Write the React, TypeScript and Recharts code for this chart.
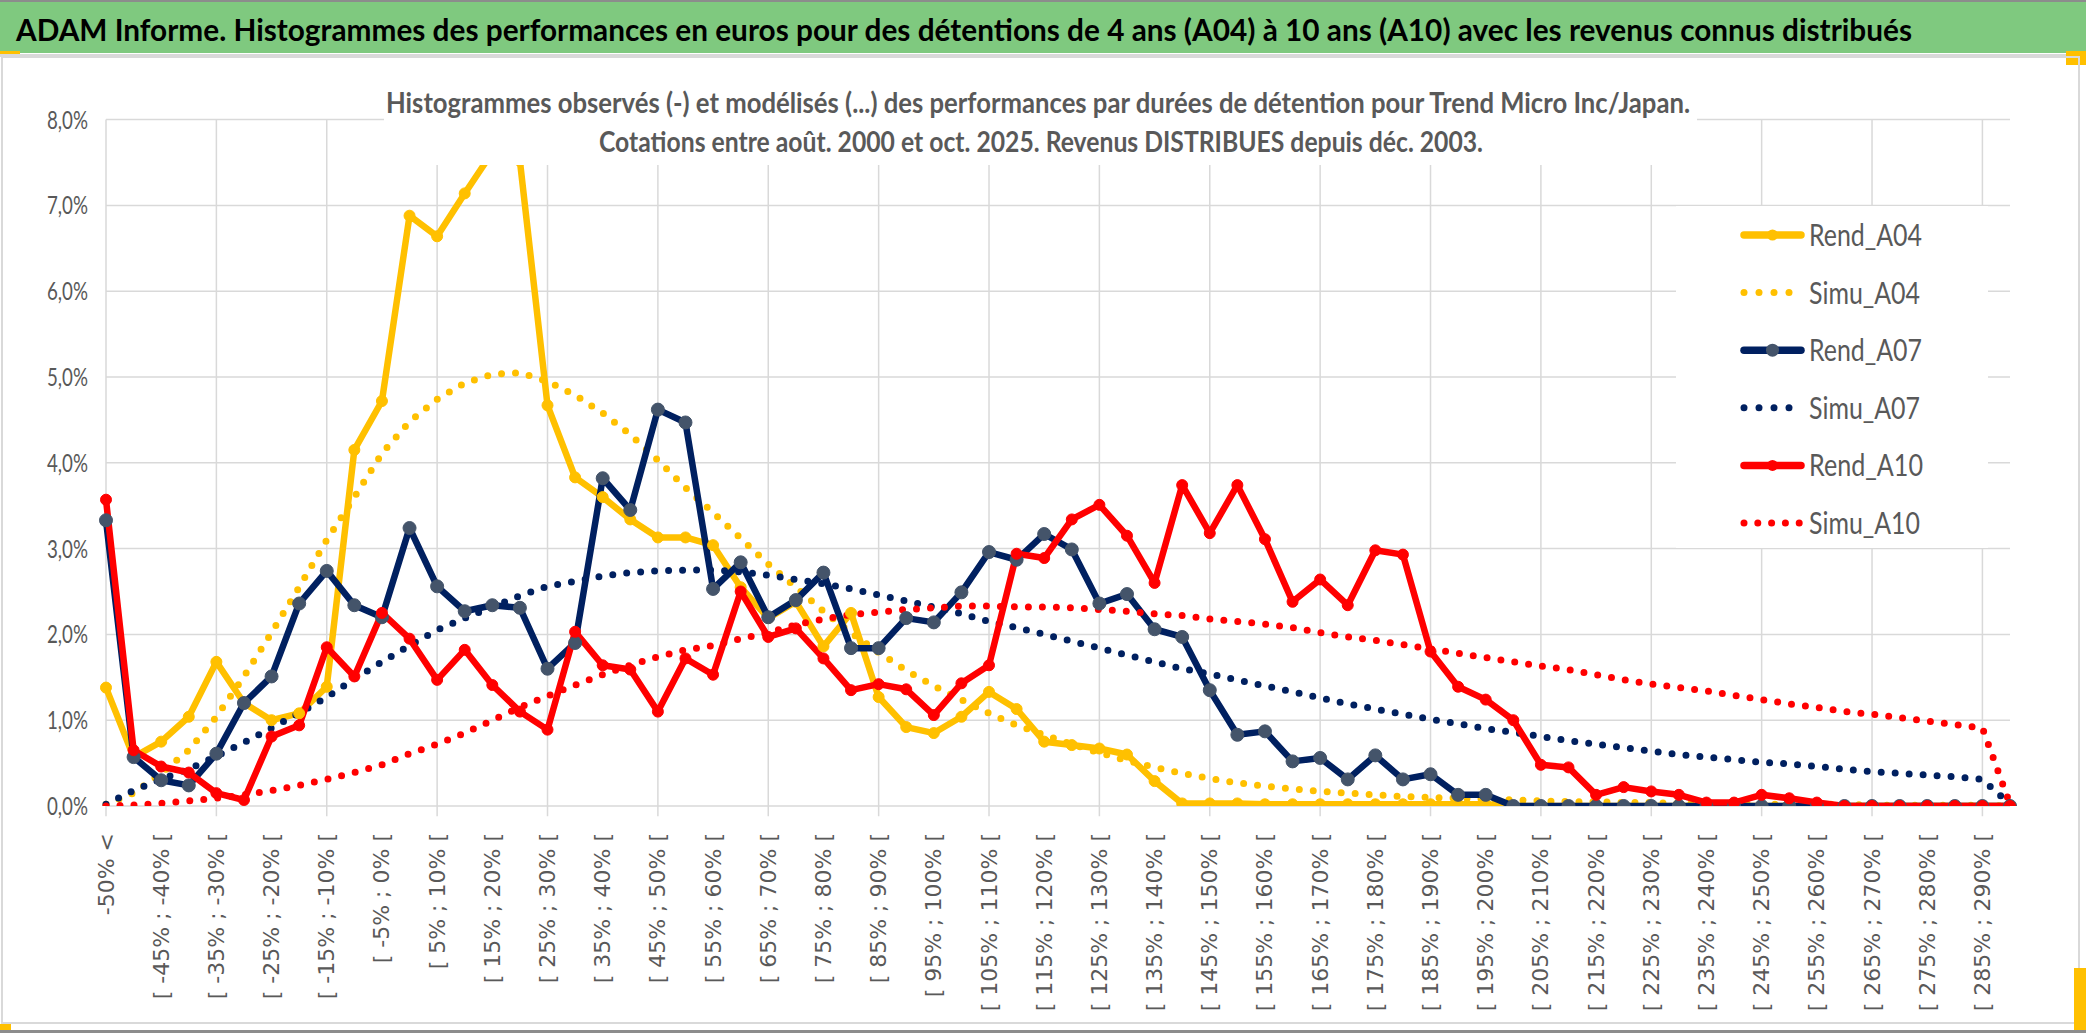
import React from "react";
import {
  LineChart,
  Line,
  XAxis,
  YAxis,
  CartesianGrid,
  ReferenceLine,
  Legend,
} from "recharts";

const W = 2086;
const H = 1033;

const TITLE =
  "ADAM Informe. Histogrammes des performances en euros pour des détentions de 4 ans (A04) à 10 ans (A10) avec les revenus connus distribués";
const SUBTITLE_1 =
  "Histogrammes observés (-) et modélisés (...) des performances par durées de détention pour Trend Micro Inc/Japan.";
const SUBTITLE_2 =
  "Cotations entre août. 2000 et oct. 2025. Revenus DISTRIBUES depuis déc. 2003.";

const categories = [
  "-50% <", "[ -50% ; -45% [", "[ -45% ; -40% [", "[ -40% ; -35% [", "[ -35% ; -30% [",
  "[ -30% ; -25% [", "[ -25% ; -20% [", "[ -20% ; -15% [", "[ -15% ; -10% [", "[ -10% ; -5% [",
  "[ -5% ; 0% [", "[ 0% ; 5% [", "[ 5% ; 10% [", "[ 10% ; 15% [", "[ 15% ; 20% [",
  "[ 20% ; 25% [", "[ 25% ; 30% [", "[ 30% ; 35% [", "[ 35% ; 40% [", "[ 40% ; 45% [",
  "[ 45% ; 50% [", "[ 50% ; 55% [", "[ 55% ; 60% [", "[ 60% ; 65% [", "[ 65% ; 70% [",
  "[ 70% ; 75% [", "[ 75% ; 80% [", "[ 80% ; 85% [", "[ 85% ; 90% [", "[ 90% ; 95% [",
  "[ 95% ; 100% [", "[ 100% ; 105% [", "[ 105% ; 110% [", "[ 110% ; 115% [", "[ 115% ; 120% [",
  "[ 120% ; 125% [", "[ 125% ; 130% [", "[ 130% ; 135% [", "[ 135% ; 140% [", "[ 140% ; 145% [",
  "[ 145% ; 150% [", "[ 150% ; 155% [", "[ 155% ; 160% [", "[ 160% ; 165% [", "[ 165% ; 170% [",
  "[ 170% ; 175% [", "[ 175% ; 180% [", "[ 180% ; 185% [", "[ 185% ; 190% [", "[ 190% ; 195% [",
  "[ 195% ; 200% [", "[ 200% ; 205% [", "[ 205% ; 210% [", "[ 210% ; 215% [", "[ 215% ; 220% [",
  "[ 220% ; 225% [", "[ 225% ; 230% [", "[ 230% ; 235% [", "[ 235% ; 240% [", "[ 240% ; 245% [",
  "[ 245% ; 250% [", "[ 250% ; 255% [", "[ 255% ; 260% [", "[ 260% ; 265% [", "[ 265% ; 270% [",
  "[ 270% ; 275% [", "[ 275% ; 280% [", "[ 280% ; 285% [", "[ 285% ; 290% [", "[ 290% ; 295% [",
];

// valeurs en %
const rendA04 = [
  1.38, 0.57, 0.75, 1.04, 1.68, 1.2, 1.0, 1.08, 1.39, 4.15,
  4.72, 6.88, 6.64, 7.14, 7.62, 7.52, 4.67, 3.83, 3.6, 3.34,
  3.13, 3.13, 3.04, 2.55, 2.19, 2.38, 1.86, 2.25, 1.27, 0.92,
  0.85, 1.04, 1.33, 1.13, 0.75, 0.71, 0.67, 0.6, 0.29, 0.03,
  0.03, 0.03, 0.02, 0.02, 0.02, 0.02, 0.02, 0.02, 0.02, 0.02,
  0.02, 0, 0, 0, 0, 0, 0, 0, 0, 0,
  0, 0, 0, 0, 0, 0, 0, 0, 0, 0,
];
const simuA04 = [
  0.02, 0.15, 0.38, 0.65, 1.04, 1.51, 2.02, 2.55, 3.1, 3.6,
  4.11, 4.48, 4.74, 4.93, 5.03, 5.05, 4.95, 4.79, 4.58, 4.33,
  4.03, 3.71, 3.42, 3.12, 2.82, 2.55, 2.27, 2.02, 1.79, 1.58,
  1.4, 1.24, 1.08, 0.94, 0.83, 0.72, 0.62, 0.53, 0.45, 0.38,
  0.32, 0.27, 0.23, 0.2, 0.17, 0.15, 0.13, 0.11, 0.1, 0.09,
  0.08, 0.07, 0.06, 0.05, 0.05, 0.04, 0.04, 0.03, 0.03, 0.03,
  0.02, 0.02, 0.02, 0.02, 0.01, 0.01, 0.01, 0.01, 0.01, 0,
];
const rendA07 = [
  3.33, 0.57, 0.3, 0.24, 0.61, 1.2, 1.51, 2.36, 2.74, 2.34,
  2.2, 3.24, 2.56, 2.27, 2.34, 2.31, 1.6, 1.9, 3.82, 3.45,
  4.62, 4.47, 2.53, 2.84, 2.2, 2.4, 2.72, 1.84, 1.84, 2.19,
  2.14, 2.49, 2.96, 2.87, 3.17, 2.99, 2.36, 2.47, 2.06, 1.97,
  1.35, 0.83, 0.87, 0.52, 0.56, 0.31, 0.59, 0.31, 0.37, 0.13,
  0.13, 0, 0, 0, 0, 0, 0, 0, 0, 0,
  0, 0, 0, 0, 0, 0, 0, 0, 0, 0,
];
const simuA07 = [
  0.02, 0.18, 0.31, 0.43, 0.58, 0.74, 0.91, 1.08, 1.27, 1.48,
  1.68, 1.87, 2.05, 2.19, 2.32, 2.45, 2.56, 2.62, 2.68, 2.72,
  2.74, 2.75, 2.75, 2.73, 2.69, 2.64, 2.59, 2.53, 2.46, 2.39,
  2.32, 2.24, 2.15, 2.08, 2.0, 1.92, 1.84, 1.76, 1.68, 1.6,
  1.54, 1.47, 1.4, 1.33, 1.26, 1.19, 1.13, 1.07, 1.01, 0.96,
  0.9, 0.86, 0.81, 0.76, 0.72, 0.68, 0.64, 0.6, 0.57, 0.54,
  0.51, 0.49, 0.46, 0.43, 0.4, 0.38, 0.36, 0.34, 0.31, 0.02,
];
const rendA10 = [
  3.57, 0.65, 0.46, 0.39, 0.15, 0.07, 0.81, 0.94, 1.85, 1.51,
  2.25, 1.95, 1.47, 1.82, 1.41, 1.1, 0.89, 2.03, 1.64, 1.59,
  1.1, 1.72, 1.53, 2.5, 1.97, 2.07, 1.72, 1.35, 1.42, 1.36,
  1.06, 1.43, 1.64, 2.94, 2.89, 3.34, 3.51, 3.15, 2.6, 3.74,
  3.18, 3.74, 3.11, 2.38, 2.64, 2.34, 2.98, 2.93, 1.8, 1.39,
  1.24, 1.0, 0.48, 0.45, 0.13, 0.22, 0.17, 0.13, 0.04, 0.04,
  0.13, 0.09, 0.04, 0, 0, 0, 0, 0, 0, 0,
];
const simuA10 = [
  0, 0.01, 0.03, 0.06, 0.09, 0.13, 0.18, 0.24, 0.31, 0.39,
  0.48, 0.61, 0.72, 0.85, 1.0, 1.15, 1.28, 1.41, 1.53, 1.64,
  1.74, 1.82, 1.87, 1.95, 2.02, 2.11, 2.18, 2.23, 2.26, 2.29,
  2.31, 2.33, 2.33, 2.32, 2.32, 2.31, 2.29, 2.27, 2.24, 2.22,
  2.18, 2.15, 2.12, 2.08, 2.02, 1.97, 1.93, 1.88, 1.83, 1.78,
  1.73, 1.68, 1.63, 1.59, 1.53, 1.47, 1.42, 1.38, 1.34, 1.29,
  1.24, 1.19, 1.15, 1.1, 1.07, 1.03, 0.99, 0.95, 0.91, 0.02,
];

const yTicks = [0, 1, 2, 3, 4, 5, 6, 7, 8];

const data = categories.map((cat, i) => ({
  cat,
  Rend_A04: rendA04[i],
  Simu_A04: simuA04[i],
  Rend_A07: rendA07[i],
  Simu_A07: simuA07[i],
  Rend_A10: rendA10[i],
  Simu_A10: simuA10[i],
}));

// lignes verticales de la grille : une catégorie sur quatre
const gridCats = categories.filter((_, i) => i % 4 === 0);

const SERIES = [
  { key: "Rend_A04", color: "#FFC000", marker: "#FFC000", r: 5.5, dotted: false, legendW: 113 },
  { key: "Simu_A04", color: "#FFC000", marker: "", r: 0, dotted: true, legendW: 111, dots: 4 },
  { key: "Rend_A07", color: "#002060", marker: "#44546A", r: 6.5, dotted: false, legendW: 113 },
  { key: "Simu_A07", color: "#002060", marker: "", r: 0, dotted: true, legendW: 111, dots: 4 },
  { key: "Rend_A10", color: "#FF0000", marker: "#FF0000", r: 5.5, dotted: false, legendW: 114 },
  { key: "Simu_A10", color: "#FF0000", marker: "", r: 0, dotted: true, legendW: 111, dots: 5 },
];

const GREY = "#595959";
const GRID = "#D9D9D9";
const LATO = "Lato, 'Open Sans', sans-serif";

const fmtPct = (v: number) => v.toFixed(1).replace(".", ",") + "%";

const YTick = (props: any) => {
  const { x, y, payload } = props;
  return (
    <text
      x={x}
      y={y + 9}
      textAnchor="end"
      fontFamily={LATO}
      fontSize={25}
      fill={GREY}
      textLength={41}
      lengthAdjust="spacingAndGlyphs"
    >
      {fmtPct(payload.value)}
    </text>
  );
};

const XTick = (props: any) => {
  const { x, y, payload } = props;
  return (
    <text
      x={x}
      y={y}
      transform={`rotate(-90, ${x}, ${y})`}
      textAnchor="end"
      dominantBaseline="central"
      fontFamily="'DejaVu Sans', sans-serif"
      fontSize={22}
      fill={GREY}
    >
      {payload.value}
    </text>
  );
};

const renderLegend = () => (
  <svg width={312} height={342} style={{ display: "block", background: "#fff" }}>
    {SERIES.map((s, i) => {
      const cy = 29 + i * 57.6;
      return (
        <g key={s.key}>
          {s.dotted ? (
            Array.from({ length: s.dots || 4 }).map((_, k) => (
              <circle
                key={k}
                cx={68 + k * (s.dots === 5 ? 13.8 : 15)}
                cy={cy}
                r={3.5}
                fill={s.color}
              />
            ))
          ) : (
            <>
              <line
                x1={68}
                x2={125}
                y1={cy}
                y2={cy}
                stroke={s.color}
                strokeWidth={7.5}
                strokeLinecap="round"
              />
              <circle cx={96.5} cy={cy} r={s.r} fill={s.marker} />
            </>
          )}
          <text
            x={133}
            y={cy + 11}
            fontFamily={LATO}
            fontSize={31}
            fill={GREY}
            textLength={s.legendW}
            lengthAdjust="spacingAndGlyphs"
          >
            {s.key}
          </text>
        </g>
      );
    })}
  </svg>
);

export default function App() {
  return (
    <div
      style={{
        position: "absolute",
        left: 0,
        top: 0,
        width: W,
        height: H,
        background: "#fff",
        overflow: "hidden",
      }}
    >
      <LineChart
        width={W}
        height={H}
        data={data}
        margin={{ top: 119.6, right: 76, bottom: 0, left: 0 }}
      >
        <CartesianGrid stroke={GRID} strokeWidth={1.5} vertical={false} />
        {gridCats.map((c) => (
          <ReferenceLine
            key={c}
            segment={[
              { x: c, y: -0.12 },
              { x: c, y: 8 },
            ]}
            stroke={GRID}
            strokeWidth={1.5}
            ifOverflow="visible"
          />
        ))}
        <XAxis
          dataKey="cat"
          type="category"
          scale="point"
          interval={1}
          height={227}
          axisLine={false}
          tickLine={false}
          tickSize={0}
          tickMargin={27}
          tick={<XTick />}
        />
        <YAxis
          type="number"
          domain={[0, 8]}
          ticks={yTicks}
          width={106}
          axisLine={false}
          tickLine={false}
          tickSize={0}
          tickMargin={18}
          tick={<YTick />}
          allowDataOverflow
        />
        <Legend
          layout="vertical"
          align="center"
          verticalAlign="middle"
          content={renderLegend}
          wrapperStyle={{ left: 1676, top: 206, width: 312, height: 342 }}
        />
        {SERIES.map((s) =>
          s.dotted ? (
            <Line
              key={s.key}
              dataKey={s.key}
              stroke={s.color}
              strokeWidth={7}
              strokeDasharray="0 14"
              strokeLinecap="round"
              dot={false}
              activeDot={false}
              isAnimationActive={false}
            />
          ) : (
            <Line
              key={s.key}
              dataKey={s.key}
              stroke={s.color}
              strokeWidth={6.5}
              strokeLinejoin="round"
              dot={{ r: s.r, fill: s.marker, stroke: s.marker, strokeWidth: 1 }}
              activeDot={false}
              isAnimationActive={false}
            />
          )
        )}
      </LineChart>

      <svg
        width={W}
        height={H}
        style={{ position: "absolute", left: 0, top: 0, pointerEvents: "none" }}
      >
        {/* bandeau du titre */}
        <rect x={0} y={0} width={W} height={2} fill="#8C8C8C" />
        <rect x={0} y={2} width={W} height={51} fill="#7FC97F" />
        <rect x={0} y={51} width={20} height={5} fill="#FFC000" />
        <rect x={2066} y={51} width={20} height={14} fill="#FFC000" />
        <rect x={0} y={54} width={2066} height={3} fill="#D9D9D9" />
        <text
          x={16}
          y={41}
          fontFamily={LATO}
          fontWeight={700}
          fontSize={30}
          fill="#000"
          textLength={1896}
          lengthAdjust="spacingAndGlyphs"
        >
          {TITLE}
        </text>

        {/* cadre du graphique */}
        <rect x={2} y={57} width={2077} height={966} fill="none" stroke={GRID} strokeWidth={2} />
        <rect x={0} y={1024} width={11} height={6} fill="#FFC000" />
        <rect x={2074} y={968} width={12} height={62} fill="#FFC000" />
        <rect x={0} y={1030} width={W} height={3} fill="#8C8C8C" />

        {/* sous-titre (masque la grille comme dans Excel) */}
        <rect x={384} y={64} width={1313} height={101} fill="#fff" />
        <text
          x={386}
          y={113}
          fontFamily={LATO}
          fontWeight={700}
          fontSize={28}
          fill={GREY}
          textLength={1304}
          lengthAdjust="spacingAndGlyphs"
        >
          {SUBTITLE_1}
        </text>
        <text
          x={599}
          y={152}
          fontFamily={LATO}
          fontWeight={700}
          fontSize={28}
          fill={GREY}
          textLength={884}
          lengthAdjust="spacingAndGlyphs"
        >
          {SUBTITLE_2}
        </text>
      </svg>
    </div>
  );
}
